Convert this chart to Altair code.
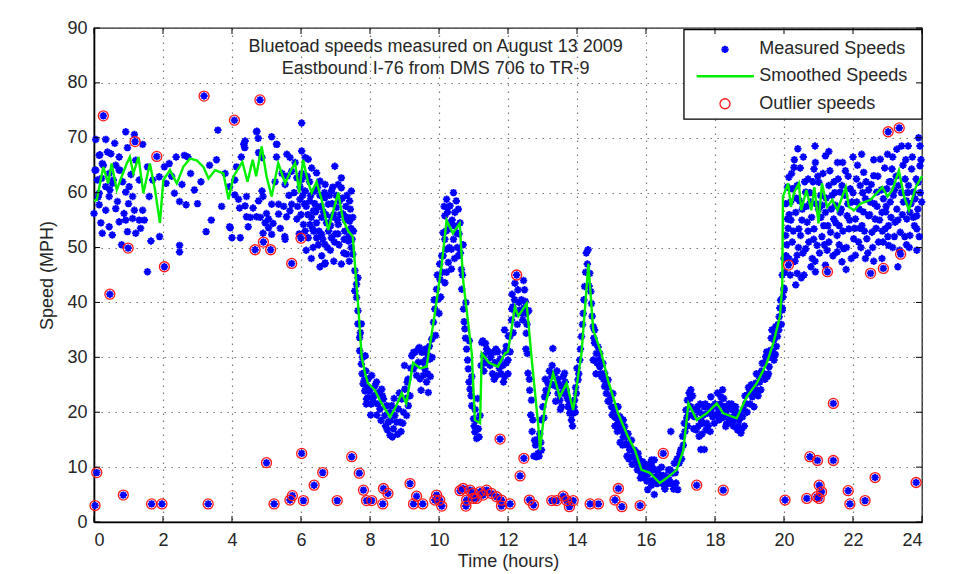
import altair as alt
import pandas as pd

# ---------------- data ----------------
smoothed = [
(0.0,58.5),(0.08,58.7),(0.27,64.7),(0.41,61.7),(0.51,65.3),(0.66,60.5),(0.80,62.9),(0.95,65.3),(1.04,66.5),(1.14,63.5),
(1.29,66.5),(1.43,59.9),(1.62,65.3),(1.77,60.5),(1.91,54.5),(2.01,62.3),(2.2,64.1),(2.4,61.7),(2.59,64.7),(2.78,66.2),
(2.98,65.9),(3.17,64.7),(3.32,62.6),(3.51,64.1),(3.75,63.5),(3.9,58.8),(4.04,62.9),(4.3,65.6),(4.45,62.0),(4.6,66.0),
(4.7,63.0),(4.86,68.4),(5.0,63.0),(5.15,59.3),(5.34,65.4),(5.54,61.7),(5.7,64.0),(5.83,65.4),(5.95,60.0),(6.06,66.0),
(6.2,62.0),(6.31,60.0),(6.45,62.0),(6.6,58.7),(6.79,53.2),(6.95,57.0),(7.08,60.0),(7.22,55.0),(7.37,53.0),(7.5,52.0),
(7.66,39.2),(7.76,30.0),(7.86,27.0),(7.94,25.3),(8.14,24.0),(8.3,22.0),(8.58,19.1),(8.75,21.0),(8.92,23.5),(9.05,21.6),
(9.25,29.0),(9.45,28.0),(9.64,28.3),(9.88,38.0),(10.08,47.0),(10.22,55.0),(10.4,52.6),(10.6,54.4),(10.7,44.0),(10.95,30.7),
(11.04,18.6),(11.19,18.0),(11.24,30.7),(11.45,29.0),(11.71,28.3),(11.91,30.7),(12.0,31.0),(12.2,39.2),(12.3,37.5),(12.54,39.8),
(12.69,29.5),(12.88,17.4),(12.93,13.1),(13.07,21.0),(13.31,27.1),(13.5,22.8),(13.7,25.3),(13.89,20.4),(14.13,30.7),(14.28,42.9),
(14.33,47.1),(14.47,35.0),(14.71,30.7),(14.9,25.8),(15.19,19.8),(15.48,15.5),(15.68,13.1),(15.87,9.5),(16.1,9.0),(16.4,7.1),
(16.6,8.0),(16.89,9.5),(17.08,13.0),(17.23,21.6),(17.47,18.6),(17.76,19.8),(18.05,21.6),(18.24,19.8),(18.63,18.9),(18.92,22.8),
(19.21,25.3),(19.5,28.9),(19.69,32.6),(19.88,37.4),(19.95,43.0),(19.97,59.3),(20.12,61.7),(20.2,57.4),(20.29,60.0),(20.43,61.7),
(20.5,56.8),(20.65,60.5),(20.79,56.8),(20.88,61.0),(21.0,54.4),(21.1,61.7),(21.25,57.4),(21.4,58.7),(21.55,56.8),(21.69,59.3),
(21.79,61.0),(21.88,57.4),(22.03,56.8),(22.22,58.0),(22.51,58.7),(22.7,60.0),(22.85,61.0),(23.0,59.3),(23.14,60.5),(23.33,64.0),
(23.48,59.3),(23.62,56.8),(23.82,61.0),(24.0,63.0)]

meas_a = [
(0.05,69.7),(0.34,69.7),(0.15,66.8),(0.49,67.1),(0.92,71.1),(0.97,68.2),(0.05,64.1),(0.24,65.3),(0.44,63.5),(0.63,65.0),
(0.73,64.1),(0.10,62.3),(0.34,61.1),(0.53,61.7),(0.83,62.0),(1.02,61.1),(0.15,59.9),(0.44,59.3),(0.68,58.4),(0.92,60.1),
(1.12,59.3),(0.15,57.8),(0.34,56.8),(0.63,57.1),(0.87,56.2),(1.17,56.8),(0.00,56.2),(0.44,53.8),(0.73,54.7),(0.92,55.0),
(1.12,55.3),(1.31,55.0),(1.46,55.0),(0.24,52.6),(0.53,52.3),(0.97,52.9),(1.21,52.6),(1.41,56.8),(1.60,59.3),(1.70,62.3),
(1.55,64.7),(1.21,65.9),(0.73,66.5),(1.31,62.3),(1.07,63.3),(1.65,51.2),(1.55,45.6),(2.48,50.4),(2.48,49.2),(1.89,62.9),
(2.04,64.7),(2.18,65.3),(2.38,66.5),(2.62,66.8),(2.72,66.5),(2.09,61.7),(2.33,59.9),(2.48,58.4),(2.67,57.8),(2.91,60.5),
(3.35,65.0),(3.59,71.4),(3.40,55.0),(3.25,52.9),(3.93,53.8),(3.93,61.1),(0.17,66.9),(0.39,67.4),(0.27,65.0),(0.03,64.1),
(0.22,62.6),(0.56,62.3),(0.75,64.1),(0.46,60.5),(0.12,59.2),(1.17,70.6),(1.41,68.8),(0.60,69.0),(1.00,58.0),(0.20,54.5),
(1.35,53.5),(2.25,63.0),(2.80,63.5),(3.10,62.0),(3.70,57.5),(3.80,63.5),(3.55,66.0),(3.00,58.0),(2.55,61.5),(0.80,50.5),
(1.90,52.0)]

meas_b = [
(4.08,59.6),(4.08,62.3),(4.13,64.7),(4.27,66.5),(4.37,68.2),(4.71,71.1),(4.76,69.9),(5.15,70.2),(5.29,68.8),(5.29,66.5),
(4.22,57.2),(4.42,59.3),(4.42,55.6),(4.47,53.8),(4.71,55.6),(4.61,57.2),(4.90,59.3),(5.00,56.2),(4.90,52.6),(5.19,54.4),
(5.53,52.0),(5.58,55.6),(5.97,61.1),(6.02,63.5),(6.02,67.6),(6.02,72.7),(6.70,47.2),(4.72,71.2),(4.38,69.4),(4.34,68.8),
(5.30,68.8),(4.77,67.3),(4.87,66.4),(5.59,67.0),(5.68,66.4),(5.83,65.5),(6.12,66.4),(6.21,66.1),(6.31,64.5),(5.73,63.9),
(5.88,62.7),(5.54,61.5),(6.02,62.4),(6.45,63.6),(6.55,62.1),(6.98,64.8),(7.17,62.7),(7.08,61.5),(6.88,60.3),(6.69,59.1),
(6.79,57.9),(7.46,60.3),(7.41,58.5),(6.40,60.3),(6.26,58.5),(6.12,60.3),(5.97,58.8),(6.36,56.7),(6.50,57.3),(6.60,55.5),
(6.74,54.5),(6.88,55.5),(7.03,57.3),(7.08,54.2),(7.22,56.1),(7.27,53.0),(7.41,54.8),(7.50,55.5),(7.37,51.2),(7.46,50.0),
(7.32,48.8),(7.17,47.0),(6.69,47.0),(6.88,51.8),(6.36,53.0),(6.21,51.8),(6.45,51.8),(6.60,52.4),(6.69,50.6),(6.07,54.2),
(5.88,55.2),(6.12,53.0),(6.26,54.2),(5.54,51.5),(5.15,52.4),(5.06,53.6),(4.96,54.5),(4.82,55.5),(4.53,55.5),(3.95,53.6),
(4.00,51.8),(4.24,51.8),(4.38,57.6),(4.19,58.8),(4.77,58.5),(4.87,60.3),(5.15,57.9),(5.35,57.9),(5.35,56.1),(5.68,56.7),
(5.73,57.9),(5.06,55.2),(7.17,60.9),(6.15,57.5),(6.30,55.5),(6.45,54.5),(6.55,59.5),(6.65,56.5),(6.80,53.0),(6.95,56.0),
(7.00,52.5),(7.12,58.5),(7.30,57.5),(7.35,55.5),(7.45,53.5),(6.40,58.0),(6.20,56.0),(6.50,50.5),(6.85,49.5),(7.10,50.5),
(7.25,51.5),(6.05,59.5),(6.25,62.0),(6.70,61.5),(6.90,58.0),(7.05,55.0),(5.90,57.5),(6.35,50.0),(6.60,48.5),(7.40,47.5),
(6.10,58.0),(6.18,63.0),(6.28,59.5),(6.33,53.5),(6.42,56.5),(6.48,61.0),(6.52,53.0),(6.58,57.5),(6.63,51.5),(6.68,60.0),
(6.72,56.0),(6.76,50.0),(6.82,59.5),(6.86,54.0),(6.92,61.0),(6.97,51.0),(7.02,59.5),(7.07,52.5),(7.14,56.0),(7.20,59.0),
(7.24,49.0),(7.28,55.0),(7.33,59.5),(7.38,52.0),(7.43,57.0),(7.48,51.5),(7.52,53.0),(5.95,52.5),(6.00,56.0),(6.15,49.5),
(6.30,48.0),(6.55,46.5),(6.95,47.5),(5.80,60.0),(5.65,59.5),(5.50,57.5),(5.45,63.5),(5.60,63.0),(5.25,62.0),(5.40,53.5),
(7.50,48.8),(7.56,45.8),(7.61,43.3),(7.61,40.9),(7.65,38.5),(7.65,36.1),(7.70,33.6),(7.70,31.2),(7.75,28.8),(7.77,27.0),
(7.83,25.8),(7.85,23.9),(7.94,22.7),(8.04,21.5),(7.89,21.5),(7.80,25.2),(7.99,23.9),(8.09,22.7),(7.75,36.1),(7.56,42.1),
(7.65,44.5),(7.72,34.5),(7.78,30.0),(7.88,27.5),(7.92,24.5)]

meas_c = [
(7.86,30.3),(7.95,26.1),(7.90,22.4),(8.05,26.7),(8.14,24.8),(8.10,21.8),(8.24,23.6),(8.29,20.6),(8.39,22.4),(8.43,19.4),
(8.53,18.2),(8.58,15.8),(8.68,17.0),(8.72,19.4),(8.63,21.2),(8.82,20.6),(8.87,18.2),(8.92,22.4),(9.01,24.2),(9.06,19.4),
(9.11,21.2),(9.21,30.3),(9.26,27.9),(9.30,30.9),(9.40,29.1),(9.45,26.1),(9.50,30.9),(9.59,27.9),(9.64,25.5),(9.69,23.6),
(9.74,29.7),(9.79,33.3),(9.84,36.4),(9.88,38.8),(9.93,42.4),(9.98,40.6),(10.03,44.2),(10.08,48.5),(10.12,52.7),(10.17,55.8),
(10.22,58.8),(10.32,57.6),(10.42,60.0),(10.46,56.4),(10.36,49.7),(10.27,47.3),(10.22,45.5),(10.51,52.7),(10.61,54.5),(10.56,48.5),
(10.66,42.4),(10.71,38.8),(10.75,35.2),(10.80,31.5),(10.85,27.9),(10.90,24.2),(10.95,21.2),(11.00,18.8),(11.04,16.4),(11.09,15.2),
(11.14,17.0),(11.19,19.4),(11.24,32.7),(11.29,30.3),(11.38,31.5),(11.48,28.5),(11.58,30.9),(11.67,26.7),(11.77,29.7),(11.87,25.5),
(11.91,30.9),(12.01,33.9),(12.11,38.8),(10.17,51.5),(10.27,53.3),(10.12,48.5),(10.32,54.5),(10.42,51.5),(10.22,49.7),(10.46,53.9),
(10.56,57.0),(10.36,46.1),(10.17,43.6),(8.00,24.2),(8.19,25.5),(8.34,24.2),(8.48,21.2),(8.77,18.2),(8.58,20.0),(8.97,20.0),
(9.16,23.0),(9.35,26.7),(9.54,29.1),(9.54,26.7),(9.69,30.3),(9.40,31.5),(9.26,30.9),(8.20,19.5),(8.45,17.5),(8.65,15.5),
(8.90,16.5),(9.00,28.5),(9.10,26.0),(9.60,31.5),(9.75,26.5),(9.90,34.0),(10.00,38.0),(10.05,41.0),(10.65,46.0),(10.70,50.5),
(10.78,40.0),(10.88,33.0),(10.95,26.5),(11.05,20.5),(11.12,22.5),(11.30,27.5),(11.40,29.0),(11.55,27.0),(11.70,31.0),(11.80,27.0),
(11.95,29.0),(11.35,32.5),(11.62,29.0),
(8.02,19.5),(8.12,23.0),(8.22,21.5),(8.32,18.5),(8.36,23.0),(8.50,16.8),(8.60,18.5),(8.70,22.5),(8.80,16.0),(8.85,23.5),
(8.95,18.0),(9.03,22.5),(9.08,25.5),(9.18,28.0),(9.33,28.5),(9.43,31.8),(9.48,24.0),(9.57,31.0),(9.62,29.5),(9.67,27.0),
(9.72,32.0),(9.80,30.0),(9.86,40.5),(9.95,45.0),(10.02,47.0),(10.10,45.5),(10.15,57.5),(10.20,53.0),(10.25,56.5),(10.30,50.0),
(10.38,55.0),(10.45,48.0),(10.50,58.5),(10.53,50.0),(10.58,52.5),(10.62,49.0),(10.68,45.0),(10.73,36.5),(10.77,33.5),(10.83,29.5),
(10.87,25.5),(10.93,23.0),(11.02,17.5),(11.07,18.5),(11.16,15.5),(11.22,28.5),(11.27,33.0),(11.33,29.0),(11.43,31.0),(11.50,30.0),
(11.60,26.0),(11.65,31.5),(11.75,28.0),(11.85,28.5),(11.90,26.5),(11.97,31.5)]

meas_d = [
(11.90,35.0),(11.95,32.0),(12.00,29.5),(12.05,33.8),(12.10,36.8),(12.14,39.2),(12.19,40.5),(12.29,42.3),(12.24,38.0),(12.34,38.6),
(12.39,40.5),(12.43,36.8),(12.48,42.3),(12.50,40.2),(12.53,38.0),(12.53,34.4),(12.56,30.7),(12.58,27.1),(12.63,24.0),(12.68,22.2),
(12.72,18.6),(12.77,14.9),(12.82,11.9),(12.87,12.5),(12.97,13.1),(12.92,16.1),(12.97,18.6),(13.01,21.0),(13.06,22.8),(13.16,25.3),
(13.26,26.5),(13.30,31.6),(13.35,27.1),(13.40,24.7),(13.45,23.4),(13.50,22.2),(13.55,24.7),(13.60,26.5),(13.64,27.1),(13.69,24.0),
(13.74,21.0),(13.79,19.8),(13.84,18.6),(13.89,19.8),(13.93,22.2),(13.98,23.4),(14.03,25.9),(14.08,29.5),(14.13,33.8),(14.18,38.0),
(14.22,42.9),(14.27,49.0),(14.32,49.6),(14.37,45.3),(14.42,39.8),(14.47,35.6),(14.51,32.6),(14.47,29.5),(14.56,30.7),(14.66,28.3),
(14.71,26.5),(14.80,24.7),(14.85,23.4),(14.95,22.2),(15.00,21.0),(15.09,19.2),(15.19,17.9),(15.29,16.7),(15.34,15.5),(15.43,14.3),
(15.53,13.1),(15.62,11.9),(15.72,10.7),(15.82,10.1),(15.87,8.8),(15.96,8.2),(16.06,8.8),(16.16,11.3),(16.20,7.6),(16.16,6.7),
(14.51,35.0),(14.61,31.9),(14.75,28.9),(14.90,25.9),(15.04,23.4),(15.14,21.0),(15.24,19.2),(15.38,17.4),(15.48,16.1),(15.58,14.9),
(15.67,13.1),(15.77,12.5),(15.34,18.6),(15.19,21.0),(14.80,27.1),(14.66,30.7),(12.15,34.5),(12.20,43.5),(12.45,44.0),(12.60,38.5),
(12.75,12.0),(12.85,15.0),(13.10,24.0),(13.20,27.5),(13.30,25.0),(13.45,26.0),(13.55,21.0),(13.70,23.0),(13.80,21.5),(13.95,20.0),
(14.25,45.5),(14.40,42.0),(14.55,27.0),(14.90,22.0),(15.10,17.5),(15.25,14.5),(15.45,12.0),(15.60,10.5),(15.90,11.0),(16.00,10.5),
(14.00,28.0),(12.52,31.5),(12.00,27.0),
(12.06,31.0),(12.12,41.5),(12.27,36.0),(12.32,40.0),(12.41,38.0),(12.46,39.0),(12.55,36.0),(12.62,26.0),(12.66,19.5),(12.70,16.5),
(12.80,14.0),(12.90,12.0),(12.95,14.5),(13.04,19.0),(13.08,26.0),(13.14,23.5),(13.22,25.0),(13.28,28.5),(13.38,22.0),(13.42,27.5),
(13.48,25.0),(13.52,20.5),(13.58,23.5),(13.66,25.5),(13.72,22.5),(13.77,22.0),(13.82,20.0),(13.87,17.5),(13.91,21.0),(13.96,24.5),
(14.05,27.0),(14.10,31.5),(14.16,36.0),(14.20,40.5),(14.30,47.0),(14.35,43.0),(14.44,37.5),(14.49,33.5),(14.58,29.0),(14.63,29.5),
(14.68,27.0),(14.77,26.0),(14.83,25.0),(14.88,24.5),(14.98,23.0),(15.02,19.5),(15.07,20.0),(15.12,19.0),(15.17,16.5),(15.22,17.5),
(15.27,18.0),(15.32,14.0),(15.36,16.5),(15.41,15.5),(15.46,14.0),(15.50,11.5),(15.55,13.5),(15.65,12.0),(15.70,11.5),(15.75,9.5),
(15.80,11.5),(15.84,8.0),(15.93,9.5)]

meas_e = [
(15.86,10.1),(16.05,9.5),(16.14,10.7),(16.24,11.3),(16.29,8.3),(16.39,7.7),(16.48,7.1),(16.58,8.3),(16.67,7.7),(16.77,8.9),
(16.82,10.7),(16.87,7.1),(16.92,5.9),(16.24,5.0),(16.72,16.5),(16.05,5.9),(16.96,10.7),(17.01,13.2),(17.06,15.6),(17.11,18.0),
(17.16,20.4),(17.20,22.2),(17.25,23.5),(17.30,24.1),(17.30,21.0),(17.40,19.2),(17.45,16.8),(17.54,15.6),(17.59,13.2),(17.64,18.0),
(17.69,21.0),(17.78,19.8),(17.88,20.4),(17.98,18.0),(18.07,21.0),(18.17,22.8),(18.22,24.1),(18.27,21.0),(18.36,19.2),(18.46,18.0),
(18.55,18.6),(18.65,16.8),(18.75,16.2),(18.80,19.2),(18.89,21.6),(18.99,23.5),(19.08,22.8),(19.18,25.3),(19.28,26.5),(19.33,24.1),
(19.37,28.9),(19.47,30.1),(19.57,28.3),(19.61,31.3),(19.71,33.2),(19.76,35.6),(19.81,33.8),(19.86,37.4),(19.90,40.4),(19.95,38.6),
(20.00,42.2),(19.71,29.5),(19.52,26.5),(19.13,21.0),(17.49,21.0),(17.59,18.6),(17.74,16.8),(17.93,19.2),(18.12,18.6),(18.31,17.4),
(18.51,20.4),(18.60,21.0),(18.70,18.6),(18.07,23.5),(17.88,22.8),(17.69,13.2),(16.35,9.5),(16.55,6.0),(16.70,9.5),(16.10,7.5),
(16.45,10.0),(17.20,17.5),(17.35,23.0),(17.55,20.0),(17.80,17.5),(18.00,21.5),(18.40,21.5),(18.85,17.5),(19.05,25.0),(19.25,23.0),
(19.40,27.0),(19.65,35.0),(19.75,30.5),(19.85,35.0),(19.95,45.0),(20.00,48.0),
(16.02,7.5),(16.12,9.0),(16.18,10.0),(16.27,9.5),(16.32,7.0),(16.42,8.5),(16.50,8.5),(16.53,6.5),(16.62,7.0),(16.65,9.5),
(16.75,7.0),(16.80,6.0),(16.85,9.0),(16.90,11.5),(16.98,12.5),(17.03,11.5),(17.08,14.0),(17.13,16.5),(17.18,19.0),(17.23,19.5),
(17.28,22.5),(17.33,19.5),(17.38,17.0),(17.43,20.5),(17.52,17.5),(17.57,21.5),(17.62,16.0),(17.67,19.5),(17.72,21.5),(17.76,18.0),
(17.83,21.0),(17.86,16.5),(17.91,21.0),(17.96,19.5),(18.03,19.5),(18.10,20.0),(18.15,21.5),(18.20,19.0),(18.25,22.5),(18.30,20.0),
(18.34,18.0),(18.38,20.5),(18.42,19.0),(18.48,21.5),(18.53,17.5),(18.57,19.5),(18.63,20.0),(18.68,17.5),(18.73,19.5),(18.78,17.0),
(18.83,20.5),(18.87,23.0),(18.93,20.0),(18.97,24.5),(19.02,21.5),(19.10,24.5),(19.15,23.5),(19.20,27.0),(19.23,24.0),(19.30,25.5),
(19.35,27.5),(19.42,29.0),(19.45,26.0),(19.50,31.0),(19.55,27.0),(19.60,30.0),(19.63,33.5),(19.68,31.0),(19.73,34.5),(19.78,32.0),
(19.83,36.0),(19.88,39.0),(19.92,36.0),(19.97,41.0)]

meas_f = [
(20.14,62.8),(20.29,64.6),(20.38,61.3),(20.19,58.3),(20.10,55.2),(20.05,52.2),(20.24,51.0),(20.14,48.0),(20.38,48.6),(20.43,53.4),
(20.53,57.0),(20.63,60.1),(20.67,54.6),(20.72,51.0),(20.82,48.0),(20.58,45.0),(20.87,64.3),(20.91,65.5),(21.01,61.9),(21.11,57.7),
(21.15,54.0),(21.20,66.7),(21.30,51.0),(21.39,59.5),(21.44,55.2),(21.54,52.2),(21.63,56.4),(21.68,61.3),(21.78,64.0),(21.73,49.8),
(21.88,53.4),(21.97,58.3),(22.07,55.2),(22.16,51.0),(22.21,61.3),(22.31,63.7),(22.36,58.9),(22.45,55.8),(22.55,52.8),(22.60,63.1),
(22.69,60.1),(22.79,66.1),(22.84,56.4),(22.93,53.4),(22.98,60.7),(23.08,58.3),(23.13,64.3),(23.22,54.6),(23.27,67.9),(23.32,61.3),
(23.41,68.5),(23.46,58.3),(23.56,55.2),(23.61,61.3),(23.65,52.2),(23.70,64.3),(23.80,58.9),(23.85,55.8),(23.94,68.5),(23.94,64.9),
(23.89,61.9),(22.84,48.0),(23.03,50.4),(22.36,48.0),(22.07,48.6),(21.68,47.4),(21.20,46.8),(20.91,45.6),(20.38,45.3),(20.34,43.2),
(20.00,42.6),(19.95,39.0),(20.24,60.7),(20.34,56.4),(20.48,52.2),(20.63,49.8),(20.77,58.3),(20.87,53.4),(20.96,50.4),(21.06,59.5),
(21.20,56.4),(21.30,61.3),(21.35,52.8),(21.49,57.7),(21.54,49.2),(21.63,60.1),(21.83,55.8),(21.92,60.7),(22.02,51.6),(22.11,58.3),
(22.26,54.0),(22.40,51.6),(22.50,58.3),(22.64,55.2),(22.74,51.0),(22.88,58.9),(23.03,54.0),(23.17,59.5),(23.27,57.0),(23.37,52.8),
(23.51,62.5),(23.65,56.4),(23.75,60.1),(23.85,53.4),(23.99,58.3),(20.56,66.5),(21.30,67.5),(22.00,66.5),(22.60,66.0),(23.00,67.0),
(23.90,70.0),(21.70,65.5),(20.40,68.0),(20.05,58.0),(20.10,61.0),(20.20,55.0),(20.45,58.5),(20.70,62.5),(20.80,55.5),(21.00,57.0),
(21.10,52.0),(21.45,62.0),(21.60,54.0),(21.85,58.0),(22.10,62.5),(22.30,56.5),(22.45,60.5),(22.70,57.5),(22.95,56.5),(23.10,62.0),
(23.20,52.0),(23.45,65.0),(23.55,58.5),(23.75,55.5),(23.95,60.0),(22.20,53.5),(22.85,53.0),(21.25,49.5),(20.90,47.5),(23.55,50.5),
(20.08,50.5),(20.15,56.0),(20.22,63.5),(20.27,53.0),(20.32,47.5),(20.36,59.0),(20.42,50.0),(20.47,64.5),(20.52,55.0),(20.55,49.0),
(20.60,62.0),(20.65,57.5),(20.70,53.0),(20.75,60.0),(20.78,46.5),(20.84,62.0),(20.86,51.5),(20.93,58.0),(20.98,63.0),(21.03,49.0),
(21.07,55.5),(21.13,63.5),(21.17,50.5),(21.22,59.0),(21.27,54.0),(21.33,64.0),(21.37,57.0),(21.42,48.5),(21.47,60.0),(21.50,54.5),
(21.57,62.5),(21.60,50.5),(21.66,57.0),(21.71,53.0),(21.76,59.5),(21.81,50.0),(21.86,63.0),(21.90,55.0),(21.95,48.0),(22.00,60.0),
(22.05,53.5),(22.13,65.0),(22.18,57.0),(22.23,50.0),(22.28,60.0),(22.33,53.0),(22.38,62.0),(22.43,49.0),(22.48,56.0),(22.53,61.5),
(22.57,50.0),(22.62,58.0),(22.67,53.5),(22.72,63.0),(22.77,55.0),(22.82,60.5),(22.87,51.0),(22.92,64.5),(22.96,57.5),(23.01,52.0),
(23.05,62.0),(23.10,55.5),(23.15,50.0),(23.20,60.5),(23.25,63.0),(23.30,55.0),(23.35,49.5),(23.40,60.0),(23.43,56.0),(23.50,52.0),
(23.53,66.0),(23.58,60.0),(23.63,50.0),(23.68,58.0),(23.72,66.5),(23.78,54.0),(23.83,62.5),(23.88,57.0),(23.92,52.0),(23.97,66.0),
(20.30,66.0),(20.90,68.5),(21.55,65.5),(22.25,67.0),(23.15,66.5),(23.60,68.5),(20.02,45.5),(20.06,48.5),(20.12,53.5),(20.18,45.0),
(22.60,47.5),(23.30,46.5),(21.80,46.0),(20.50,44.5),(23.85,49.5)]

outliers = [
(0.27,74.0),(1.19,69.3),(1.82,66.6),(3.19,77.6),(4.07,73.2),(4.81,76.9),(0.99,49.9),(2.04,46.5),(4.67,49.6),(4.91,51.0),
(5.12,49.6),(6.00,51.7),(5.73,47.1),(0.46,41.5),(0.08,9.0),(0.03,3.0),(0.85,4.9),(1.67,3.3),(1.97,3.3),(3.31,3.3),
(5.00,10.8),(5.22,3.3),(5.68,4.0),(5.75,4.8),(6.07,3.9),(6.02,12.5),(6.38,6.7),(6.63,9.0),(7.05,3.9),(7.47,11.9),
(7.69,8.9),(7.81,5.8),(7.90,3.9),(8.05,3.9),(8.39,6.1),(8.52,5.2),(8.37,3.3),(9.16,7.0),(9.35,4.7),(9.26,3.3),
(9.53,3.3),(9.93,4.9),(10.02,4.0),(10.08,2.9),(9.88,4.0),(10.61,5.7),(10.70,6.1),(10.80,4.0),(10.78,2.9),(10.90,5.8),
(10.99,5.2),(11.09,4.3),(11.19,5.5),(11.28,4.9),(11.38,5.8),(11.52,5.2),(11.67,4.6),(11.81,4.0),(11.81,2.9),(12.06,3.3),
(10.99,4.3),(11.77,15.1),(12.46,11.6),(12.35,8.4),(12.25,45.0),(12.62,4.0),(12.74,3.1),(13.27,3.9),(13.41,3.9),(13.60,4.7),
(13.70,3.9),(13.78,2.8),(13.89,3.9),(14.38,3.3),(14.62,3.3),(15.20,6.1),(15.10,4.0),(15.30,2.8),(15.83,3.0),(16.50,12.5),
(17.47,6.7),(18.24,5.8),(20.03,4.0),(20.66,4.3),(20.75,11.9),(20.97,11.2),(21.02,6.7),(21.09,5.5),(20.95,4.6),(21.02,4.3),
(21.43,21.6),(21.43,11.2),(21.86,5.7),(21.91,3.3),(22.35,3.9),(22.64,8.1),(23.83,7.2),(23.02,71.1),(23.34,71.8),(20.13,46.8),
(21.26,45.6),(22.51,45.3),(22.88,46.2),(23.38,48.8)]

x_ticks = list(range(0, 25, 2))
y_ticks = list(range(0, 91, 10))
title_lines = ["Bluetoad speeds measured on August 13 2009", "Eastbound I-76 from DMS 706 to TR-9"]
legend_labels = ["Measured Speeds", "Smoothed Speeds", "Outlier speeds"]

# ---------------- layout / style ----------------
W, H = 828, 494
FONT = "Liberation Sans"
TXT = "#262626"
BLUE = "#0000ff"
GREEN = "#00f000"
RED = "#ff1a1a"
STAR = "M-1,0L1,0M0,-1L0,1M-0.7,-0.7L0.7,0.7M-0.7,0.7L0.7,-0.7"
STAR_SIZE, STAR_W = 55, 2.0

title_pos_t, title_pos_v = [9.9, 9.9], [86.6, 82.5]
leg_box = dict(t=17.1, t2=24.0, v=73.4, v2=89.7)
leg_rows_v = [86.1, 81.2, 76.2]
leg_sym_t, leg_line_t, leg_text_t = 18.29, (17.47, 19.13), 19.28

# ---------------- frames ----------------
meas = meas_a + meas_b + meas_c + meas_d + meas_e + meas_f + outliers
df_meas = pd.DataFrame(meas, columns=["t", "v"])
df_smooth = pd.DataFrame(smoothed, columns=["t", "v"])
df_out = pd.DataFrame(outliers, columns=["t", "v"])
df_title = pd.DataFrame({"t": title_pos_t, "v": title_pos_v, "txt": title_lines})
df_xt = pd.DataFrame({"t": x_ticks})
df_yt = pd.DataFrame({"v": y_ticks})

xs = alt.Scale(domain=[0, 24], nice=False)
ys = alt.Scale(domain=[0, 90], nice=False)
xax = alt.Axis(values=x_ticks, title="Time (hours)", ticks=False, grid=True,
               labelPadding=9, titlePadding=3, format="d")
yax = alt.Axis(values=y_ticks, title="Speed (MPH)", ticks=False, grid=True,
               labelPadding=7, titlePadding=10, format="d")

def X(field="t"):
    return alt.X(f"{field}:Q", scale=xs, axis=xax)

def Y(field="v"):
    return alt.Y(f"{field}:Q", scale=ys, axis=yax)

points = alt.Chart(df_meas).mark_point(shape=STAR, size=STAR_SIZE, stroke=BLUE, strokeWidth=STAR_W,
                                        filled=False, opacity=1).encode(x=X(), y=Y())
line = alt.Chart(df_smooth).mark_line(color=GREEN, strokeWidth=2.4).encode(x=X(), y=Y())
circles = alt.Chart(df_out).mark_point(shape="circle", size=100, stroke=RED, strokeWidth=1.3,
                                       filled=False, opacity=1).encode(x=X(), y=Y())

titles = alt.Chart(df_title).mark_text(font=FONT, fontSize=18, color=TXT, align="center",
                                       baseline="middle").encode(x=X(), y=Y(), text="txt:N")

# legend (drawn inside plot)
df_lbox = pd.DataFrame([dict(t=leg_box["t"], t2=leg_box["t2"], v=leg_box["v"], v2=leg_box["v2"])])
lbox = alt.Chart(df_lbox).mark_rect(fill="white", stroke="black", strokeWidth=1.3).encode(
    x=X(), x2="t2:Q", y=Y(), y2="v2:Q")
df_lsym = pd.DataFrame({"t": [leg_sym_t], "v": [leg_rows_v[0]]})
lsym = alt.Chart(df_lsym).mark_point(shape=STAR, size=STAR_SIZE, stroke=BLUE, strokeWidth=STAR_W,
                                     filled=False, opacity=1).encode(x=X(), y=Y())
df_lline = pd.DataFrame({"t": list(leg_line_t), "v": [leg_rows_v[1]] * 2})
lline = alt.Chart(df_lline).mark_line(color=GREEN, strokeWidth=2.4).encode(x=X(), y=Y())
df_lcirc = pd.DataFrame({"t": [leg_sym_t], "v": [leg_rows_v[2]]})
lcirc = alt.Chart(df_lcirc).mark_point(shape="circle", size=100, stroke=RED, strokeWidth=1.3,
                                       filled=False, opacity=1).encode(x=X(), y=Y())
df_ltxt = pd.DataFrame({"t": [leg_text_t] * 3, "v": leg_rows_v, "txt": legend_labels})
ltxt = alt.Chart(df_ltxt).mark_text(font=FONT, fontSize=18, color=TXT, align="left",
                                    baseline="middle").encode(x=X(), y=Y(), text="txt:N")

# inward ticks on all four sides
TL = 6
xt_b = alt.Chart(df_xt).mark_rule(color="black", strokeWidth=1).encode(x=X(), y=alt.value(H), y2=alt.value(H - TL))
xt_t = alt.Chart(df_xt).mark_rule(color="black", strokeWidth=1).encode(x=X(), y=alt.value(0), y2=alt.value(TL))
yt_l = alt.Chart(df_yt).mark_rule(color="black", strokeWidth=1).encode(y=Y(), x=alt.value(0), x2=alt.value(TL))
yt_r = alt.Chart(df_yt).mark_rule(color="black", strokeWidth=1).encode(y=Y(), x=alt.value(W), x2=alt.value(W - TL))

chart = alt.layer(points, line, circles, titles, lbox, lsym, lline, lcirc, ltxt,
                  xt_b, xt_t, yt_l, yt_r).properties(
    width=W, height=H,
    autosize=alt.AutoSizeParams(type="none"),
    padding={"left": 86, "top": 20, "right": 20, "bottom": 51},
    background="white",
).configure_view(stroke="#222", strokeWidth=1.3).configure_axis(
    labelFont=FONT, titleFont=FONT, labelFontSize=18, titleFontSize=18,
    labelColor=TXT, titleColor=TXT, titleFontWeight="normal",
    domainColor="black", domainWidth=1.6,
    gridColor="#6a6a6a", gridDash=[1.5, 5.5], gridWidth=1.2, gridOpacity=0.9,
)

chart.save("out.html", embed_options={"renderer": "svg", "actions": False})
